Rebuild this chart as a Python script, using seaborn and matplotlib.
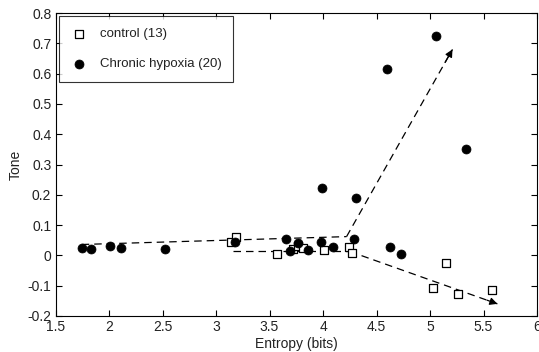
import numpy as np
import pandas as pd
import matplotlib
matplotlib.use("Agg")
import matplotlib.pyplot as plt
import seaborn as sns

# control group (13)
ctrl_entropy = [3.14, 3.19, 3.57, 3.72, 3.77, 3.81, 4.01, 4.24, 4.27, 5.03, 5.15, 5.26, 5.58]
ctrl_tone = [0.045, 0.062, 0.006, 0.020, 0.030, 0.025, 0.019, 0.027, 0.007, -0.107, -0.025, -0.129, -0.113]

# chronic hypoxia group (20)
hyp_entropy = [1.745, 1.83, 2.01, 2.11, 2.52, 3.18, 3.65, 3.69, 3.77, 3.86, 3.98, 3.99,
               4.09, 4.29, 4.31, 4.60, 4.63, 4.73, 5.06, 5.34]
hyp_tone = [0.024, 0.021, 0.031, 0.024, 0.021, 0.044, 0.055, 0.014, 0.042, 0.017, 0.045, 0.223,
            0.029, 0.053, 0.188, 0.615, 0.027, 0.003, 0.725, 0.351]

# dashed trend paths
upper_x = [1.745, 4.22]
upper_y = [0.036, 0.062]
up_arrow_x = [4.22, 5.21]
up_arrow_y = [0.062, 0.68]
lower_x = [3.16, 4.25]
lower_y = [0.013, 0.013]
down_arrow_x = [4.25, 5.63]
down_arrow_y = [0.013, -0.16]

ctrl = pd.DataFrame({"Entropy": ctrl_entropy, "Tone": ctrl_tone})
hyp = pd.DataFrame({"Entropy": hyp_entropy, "Tone": hyp_tone})

sns.set_style("ticks")
plt.rcParams["font.family"] = ["Liberation Sans", "DejaVu Sans"]

fig = plt.figure(figsize=(5.39, 3.52), dpi=100)
ax = fig.add_axes([0.103, 0.1023, 0.8933, 0.8607])

dash = dict(color="k", lw=0.9, dashes=(6, 4))
ax.plot(upper_x, upper_y, **dash)
ax.plot(lower_x, lower_y, **dash)
for xs, ys in [(up_arrow_x, up_arrow_y), (down_arrow_x, down_arrow_y)]:
    ax.plot(xs, ys, **dash)
    # arrowhead at the end of the path
    fx = xs[0] + 0.93 * (xs[1] - xs[0])
    fy = ys[0] + 0.93 * (ys[1] - ys[0])
    ax.annotate("", xy=(xs[1], ys[1]), xytext=(fx, fy),
                arrowprops=dict(arrowstyle="-|>", color="k", lw=0.9,
                                mutation_scale=11, shrinkA=0, shrinkB=0))

sns.scatterplot(data=ctrl, x="Entropy", y="Tone", marker="s", s=34,
                facecolor="white", edgecolor="k", linewidth=0.9,
                label="control (13)", ax=ax, zorder=3)
sns.scatterplot(data=hyp, x="Entropy", y="Tone", marker="o", s=42,
                color="k", edgecolor="k", linewidth=0.5,
                label="Chronic hypoxia (20)", ax=ax, zorder=4)

ax.set_xlim(1.5, 6)
ax.set_ylim(-0.2, 0.8)
ax.set_xticks(np.arange(1.5, 6.01, 0.5))
ax.set_xticklabels(["1.5", "2", "2.5", "3", "3.5", "4", "4.5", "5", "5.5", "6"])
ax.set_yticks(np.arange(-0.2, 0.81, 0.1))
ax.set_yticklabels(["-0.2", "-0.1", "0", "0.1", "0.2", "0.3", "0.4", "0.5", "0.6", "0.7", "0.8"])
ax.tick_params(direction="in", length=4, width=0.8, labelsize=10, top=True, right=True,
               colors="k", labelcolor="#222222", pad=3)
for sp in ax.spines.values():
    sp.set_visible(True)
    sp.set_linewidth(0.8)
    sp.set_color("k")
ax.set_xlabel("Entropy (bits)", fontsize=10, labelpad=2, color="#222222")
ax.set_ylabel("Tone", fontsize=10, labelpad=3, color="#222222")

leg = ax.legend(loc="upper left", fontsize=9.5, frameon=True, fancybox=False,
                edgecolor="k", borderpad=0.9, labelspacing=1.35, handletextpad=1.0,
                borderaxespad=0.25, handlelength=1.2)
leg.get_frame().set_linewidth(0.8)
for t in leg.get_texts():
    t.set_color("#222222")

fig.savefig("out.png", dpi=100)
